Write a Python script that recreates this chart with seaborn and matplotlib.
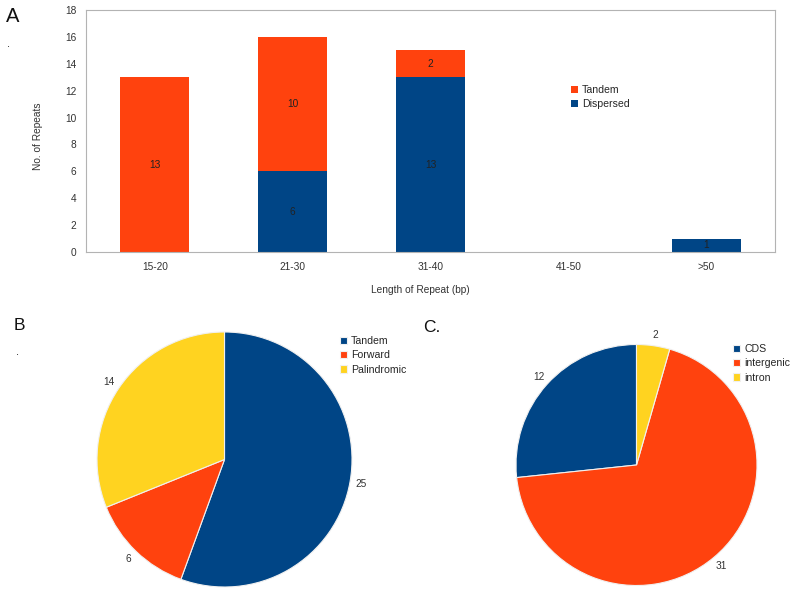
import matplotlib
matplotlib.use("Agg")
import matplotlib.pyplot as plt
import seaborn as sns
import pandas as pd
import numpy as np

# ---- data ----
length_bins = ["15-20", "21-30", "31-40", "41-50", ">50"]
tandem_counts = [13, 10, 2, 0, 0]
dispersed_counts = [0, 6, 13, 0, 1]

b_labels = ["Tandem", "Forward", "Palindromic"]
b_values = [25, 6, 14]

c_labels = ["CDS", "intergenic", "intron"]
c_values = [12, 31, 2]

BLUE = "#004586"
RED = "#ff420e"
YELLOW = "#ffd320"
TXT = "#333333"

sns.set_theme(style="white")
plt.rcParams['font.family'] = ['Liberation Sans', 'DejaVu Sans']

W, H = 794, 593
fig = plt.figure(figsize=(W / 100, H / 100), dpi=100)

def px_axes(x0, y0, x1, y1):
    return fig.add_axes([x0 / W, 1 - y1 / H, (x1 - x0) / W, (y1 - y0) / H])

FS = 7.3
LEG = dict(frameon=False, fontsize=7.6, handlelength=0.7, handleheight=0.7,
           handletextpad=0.35, labelspacing=0.42, borderaxespad=0, borderpad=0)

# ---- panel A: stacked bar ----
df = pd.DataFrame({
    "bin": length_bins,
    "Tandem": tandem_counts,
    "Dispersed": dispersed_counts,
})
df["Total"] = df["Tandem"] + df["Dispersed"]

ax0, ay0, ax1, ay1 = 86, 10, 775, 252
axA = px_axes(ax0, ay0, ax1, ay1)
sns.barplot(data=df, x="bin", y="Total", color=RED, width=0.5, ax=axA,
            saturation=1, label="Tandem", linewidth=0)
sns.barplot(data=df, x="bin", y="Dispersed", color=BLUE, width=0.5, ax=axA,
            saturation=1, label="Dispersed", linewidth=0)
axA.set_ylim(0, 18)
axA.set_xlim(-0.5, len(length_bins) - 0.5)
axA.set_yticks(range(0, 19, 2))
axA.tick_params(axis="both", labelsize=FS, colors=TXT, length=0, pad=7)
axA.set_xticks(np.arange(-0.5, len(length_bins), 1.0), minor=True)
axA.tick_params(axis="x", which="minor", length=4, color="#b3b3b3", direction="out")
axA.tick_params(axis="y", length=4, color="#b3b3b3", direction="out", pad=3)
for s in axA.spines.values():
    s.set_color("#b3b3b3")
    s.set_linewidth(0.8)
axA.set_xlabel("Length of Repeat (bp)", fontsize=FS, color=TXT)
axA.xaxis.set_label_coords((420 - ax0) / (ax1 - ax0), 1 - (285 - ay0) / (ay1 - ay0))
axA.set_ylabel("No. of Repeats", fontsize=FS, color=TXT)
axA.yaxis.set_label_coords((43 - ax0) / (ax1 - ax0), 1 - (136 - ay0) / (ay1 - ay0))

for i, (t, d) in enumerate(zip(tandem_counts, dispersed_counts)):
    if d > 0:
        axA.text(i, d / 2, str(d), ha="center", va="center", fontsize=FS, color="#222222")
    if t > 0:
        axA.text(i, d + t / 2, str(t), ha="center", va="center", fontsize=FS, color="#222222")

hA, lA = axA.get_legend_handles_labels()
axA.legend(hA, lA, loc="upper left",
           bbox_to_anchor=((571 - ax0) / (ax1 - ax0), 1 - (85 - ay0) / (ay1 - ay0)), **LEG)

fig.text(6 / W, 1 - 17 / H, "A", fontsize=14.5, ha="left", va="center", color="#111111")
fig.text(7 / W, 1 - 44 / H, ".", fontsize=8, ha="left", va="center", color="#111111")

# ---- panel B: pie ----
rB = 127.5
cxB, cyB = 224.5, 459.5
axB = px_axes(cxB - rB, cyB - rB, cxB + rB, cyB + rB)
wB, tB = axB.pie(b_values, labels=[str(v) for v in b_values], colors=[BLUE, RED, YELLOW],
                 startangle=90, counterclock=False, labeldistance=1.09,
                 wedgeprops=dict(edgecolor="#f0f0f0", linewidth=0.8),
                 textprops=dict(fontsize=FS, color=TXT))
for t in tB:
    t.set_ha("center"); t.set_va("center")
axB.set_xlim(-1, 1); axB.set_ylim(-1, 1)
axB.set_aspect("equal")
axB.legend(wB, b_labels, loc="upper left",
           bbox_to_anchor=((340 - (cxB - rB)) / (2 * rB), 1 - (336 - (cyB - rB)) / (2 * rB)), **LEG)

fig.text(14 / W, 1 - 326 / H, "B", fontsize=12.5, ha="left", va="center", color="#111111")
fig.text(16 / W, 1 - 352 / H, ".", fontsize=8, ha="left", va="center", color="#111111")

# ---- panel C: pie ----
rC = 120.5
cxC, cyC = 636.5, 465
axC = px_axes(cxC - rC, cyC - rC, cxC + rC, cyC + rC)
wC, tC = axC.pie(c_values, labels=[str(v) for v in c_values], colors=[BLUE, RED, YELLOW],
                 startangle=90, counterclock=True, labeldistance=1.09,
                 wedgeprops=dict(edgecolor="#f0f0f0", linewidth=0.8),
                 textprops=dict(fontsize=FS, color=TXT))
for t in tC:
    t.set_ha("center"); t.set_va("center")
axC.set_xlim(-1, 1); axC.set_ylim(-1, 1)
axC.set_aspect("equal")
axC.legend(wC, c_labels, loc="upper left",
           bbox_to_anchor=((733 - (cxC - rC)) / (2 * rC), 1 - (344 - (cyC - rC)) / (2 * rC)), **LEG)

fig.text(423 / W, 1 - 327 / H, "C.", fontsize=12.5, ha="left", va="center", color="#111111")

fig.savefig("out.png", dpi=100)
